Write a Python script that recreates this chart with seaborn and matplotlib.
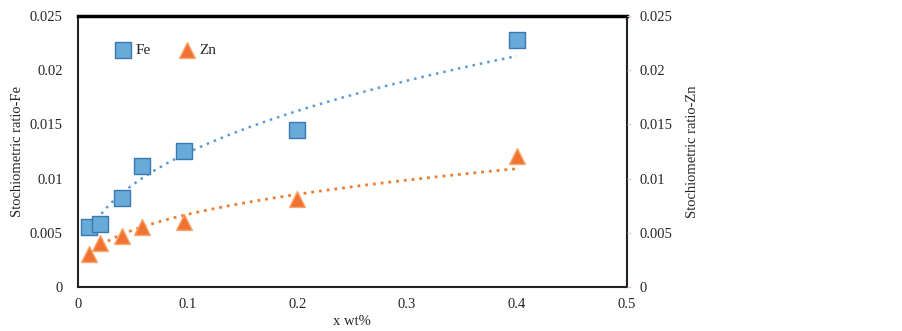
import numpy as np
import pandas as pd
import matplotlib.pyplot as plt
import seaborn as sns

x_wt = [0.01, 0.02, 0.04, 0.058, 0.097, 0.2, 0.4]
fe_ratio = [0.0055, 0.0058, 0.0082, 0.0112, 0.0125, 0.0145, 0.0228]
zn_ratio = [0.0030, 0.0041, 0.0047, 0.0055, 0.0060, 0.0081, 0.0121]

x_ticks = [0, 0.1, 0.2, 0.3, 0.4, 0.5]
y_ticks = [0, 0.005, 0.01, 0.015, 0.02, 0.025]
y_labels = ['0', '0.005', '0.01', '0.015', '0.02', '0.025']

sns.set_style('white')
plt.rcParams['font.family'] = ['Liberation Serif', 'DejaVu Serif']
plt.rcParams['font.size'] = 10.5

df = pd.DataFrame({'x': x_wt, 'Fe': fe_ratio, 'Zn': zn_ratio})

fig = plt.figure(figsize=(9.03, 3.31), dpi=100)
ax = fig.add_axes([0.0864, 0.133, 0.6075, 0.819])

fe_col = '#6aaad9'
zn_col = '#f07230'


def power_fit(x, y):
    # Excel-style power trendline y = a * x^b
    b, loga = np.polyfit(np.log(x), np.log(y), 1)
    xs = np.linspace(min(x), max(x), 100)
    return xs, np.exp(loga) * xs ** b


xs, ys = power_fit(df['x'], df['Fe'])
ax.plot(xs, ys, ls=(0, (1, 2)), color='#5b9bd5', lw=1.8, zorder=2)
xs, ys = power_fit(df['x'], df['Zn'])
ax.plot(xs, ys, ls=(0, (1, 1.8)), color='#ed7d31', lw=2.0, zorder=2)

sns.scatterplot(data=df, x='x', y='Fe', ax=ax, marker='s', s=120,
                color=fe_col, edgecolor='#3a78b0', linewidth=1.0, label='Fe', zorder=3)
sns.scatterplot(data=df, x='x', y='Zn', ax=ax, marker='^', s=130,
                color=zn_col, edgecolor='#f7a56e', linewidth=1.0, label='Zn', zorder=3)

ax.set_xlim(0, 0.5)
ax.set_ylim(0, 0.025)
ax.set_xticks(x_ticks)
ax.set_xticklabels([f'{t:g}' for t in x_ticks])
ax.set_yticks(y_ticks)
ax.set_yticklabels(y_labels)
ax.set_xlabel('x wt%', fontsize=10.5, labelpad=3)
ax.set_ylabel('Stochiometric ratio-Fe', fontsize=10.5, labelpad=4)
ax.tick_params(axis='y', length=0, pad=11)
ax.tick_params(axis='x', length=0, pad=8)

for side in ['left', 'bottom', 'right']:
    ax.spines[side].set_color('#222222')
    ax.spines[side].set_linewidth(1.5)
ax.spines['top'].set_color('black')
ax.spines['top'].set_linewidth(2.5)

ax2 = ax.twinx()
ax2.set_ylim(0, 0.025)
ax2.set_yticks(y_ticks)
ax2.set_yticklabels(y_labels)
ax2.set_ylabel('Stochiometric ratio-Zn', fontsize=10.5, labelpad=10)
ax2.tick_params(length=3, color='#e8c8c8', pad=6)
for sp in ax2.spines.values():
    sp.set_visible(False)

leg = ax.legend(loc='upper left', ncol=2, frameon=False, bbox_to_anchor=(0.035, 0.95),
                handletextpad=0.0, columnspacing=1.6, handlelength=1.6, fontsize=11)

fig.savefig('out.png', dpi=100)
